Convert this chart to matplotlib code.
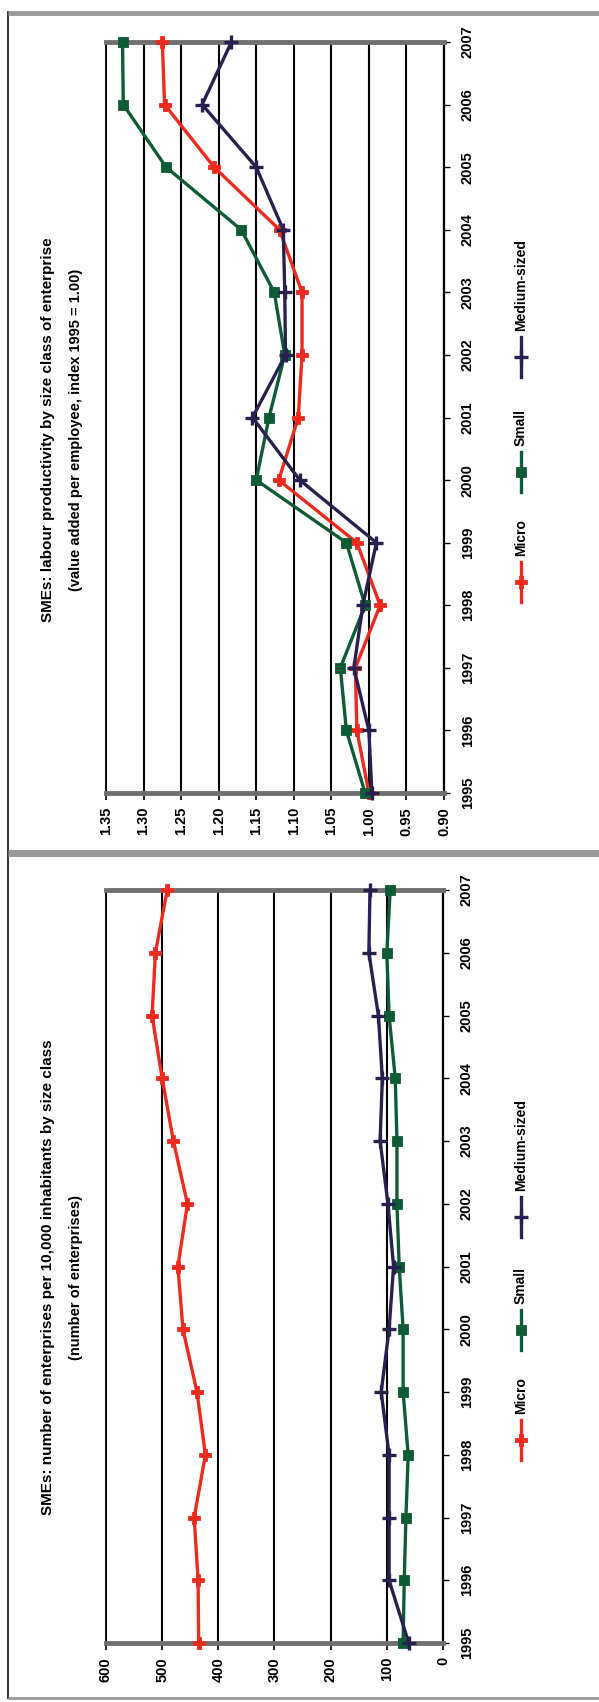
import matplotlib
matplotlib.use("Agg")
import matplotlib.pyplot as plt
import numpy as np

plt.rcParams['font.family'] = ['Liberation Sans', 'DejaVu Sans']

# ---------------- data ----------------
years = [1995, 1996, 1997, 1998, 1999, 2000, 2001, 2002, 2003, 2004, 2005, 2006, 2007]
series_names = ["Micro", "Small", "Medium-sized"]

# upper chart: index (1995 = 1.00)
top_red = [1.000, 1.016, 1.018, 0.985, 1.016, 1.120, 1.094, 1.089, 1.089, 1.119, 1.206, 1.272, 1.275]
top_green = [1.005, 1.030, 1.038, 1.005, 1.030, 1.150, 1.133, 1.112, 1.126, 1.170, 1.270, 1.327, 1.328]
top_navy = [0.996, 1.000, 1.020, 1.008, 0.990, 1.092, 1.155, 1.111, 1.112, 1.114, 1.150, 1.222, 1.183]
top_ticks = [0.90, 0.95, 1.00, 1.05, 1.10, 1.15, 1.20, 1.25, 1.30, 1.35]

# lower chart
bot_red = [435, 436, 443, 423, 438, 463, 472, 455, 480, 500, 518, 512, 491]
bot_green = [71, 69, 66, 62, 71, 71, 78, 82, 82, 85, 96, 100, 94]
bot_navy = [61, 96, 96, 96, 110, 96, 88, 98, 112, 108, 115, 132, 130]
bot_ticks = [0, 100, 200, 300, 400, 500, 600]

top_title = ["SMEs: labour productivity by size class of enterprise",
             "(value added per employee, index 1995 = 1.00)"]
bot_title = ["SMEs: number of enterprises per 10,000 inhabitants by size class",
             "(number of enterprises)"]

# ---------------- styles ----------------
W, H = 599, 1702
RED, GREEN, NAVY = "#ee2a1f", "#0e5c36", "#28214f"
styles = [
    dict(color=RED, marker="P", ms=8, mew=0.6),
    dict(color=GREEN, marker="s", ms=7, mew=0.6),
    dict(color=NAVY, marker="+", ms=9.5, mew=2.4),
]

fig = plt.figure(figsize=(W / 100, H / 100), dpi=100)


def rect(x0, y0, x1, y1):
    return [x0 / W, 1 - y1 / H, (x1 - x0) / W, (y1 - y0) / H]


def make_panel(box, ticks, fmt, data):
    ax = fig.add_axes(rect(*box))
    for vals, st in zip(data, styles):
        ax.plot(vals, years, lw=2.4, clip_on=False, zorder=5, **st)
    ax.set_xlim(ticks[-1], ticks[0])
    ax.set_ylim(years[0], years[-1])
    ax.set_xticks(ticks)
    ax.set_xticklabels([fmt(t) for t in ticks], rotation=90, fontsize=10.5,
                       fontweight="bold")
    ax.set_yticks(years)
    ax.yaxis.tick_right()
    ax.set_yticklabels([str(y) for y in years], rotation=90, va="center",
                       ha="left", fontsize=10.5, fontweight="bold")
    ax.tick_params(axis="x", length=5, width=1.2, pad=5, colors="black")
    ax.tick_params(axis="y", length=4, width=1.0, pad=8, colors="black")
    ax.grid(axis="x", color="black", lw=1.5, zorder=1)
    ax.spines["left"].set_color("black")
    ax.spines["left"].set_linewidth(1.3)
    ax.spines["right"].set_color("black")
    ax.spines["right"].set_linewidth(1.6)
    for s in ("top", "bottom"):
        ax.spines[s].set_color("#6f6f6f")
        ax.spines[s].set_linewidth(3.5)
    ax.set_axisbelow(True)
    return ax


make_panel((106, 42, 444, 793), top_ticks, lambda t: f"{t:.2f}",
           [top_red, top_green, top_navy])
make_panel((106, 890, 443, 1643), bot_ticks, lambda t: f"{t:d}",
           [bot_red, bot_green, bot_navy])

# ---------------- overlay: frame, titles, legends ----------------
ov = fig.add_axes([0, 0, 1, 1], zorder=-1)
ov.set_xlim(0, W)
ov.set_ylim(H, 0)
ov.axis("off")

ov.plot([8, 8], [12, 1698], color="#222222", lw=1.3)
for yb, lw in ((13, 3.5), (853, 5), (1698, 2)):
    ov.plot([8, W], [yb, yb], color="#9a9a9a", lw=lw, solid_capstyle="butt")

ov2 = fig.add_axes([0, 0, 1, 1], zorder=10)
ov2.set_xlim(0, W)
ov2.set_ylim(H, 0)
ov2.axis("off")
ov2.patch.set_alpha(0)


def titles(lines, yc):
    ov2.text(48, yc, lines[0], rotation=90, ha="center", va="center",
             fontsize=11, fontweight="bold")
    ov2.text(76, yc, lines[1], rotation=90, ha="center", va="center",
             fontsize=10.5, fontweight="bold")


titles(top_title, 430)
titles(bot_title, 1277)


def legend(marker_ys):
    x = 521
    for name, st, ym in zip(series_names, styles, marker_ys):
        ov2.plot([x, x], [ym - 20, ym + 20], lw=2.4, color=st["color"])
        ov2.plot([x], [ym], lw=0, color=st["color"], marker=st["marker"],
                 ms=st["ms"], mew=st["mew"])
        ov2.text(x, ym - 26, name, rotation=90, ha="center", va="bottom",
                 fontsize=10, fontweight="bold")


legend([582, 472, 357])
legend([1440, 1330, 1217])

fig.savefig("out.png", dpi=100)
